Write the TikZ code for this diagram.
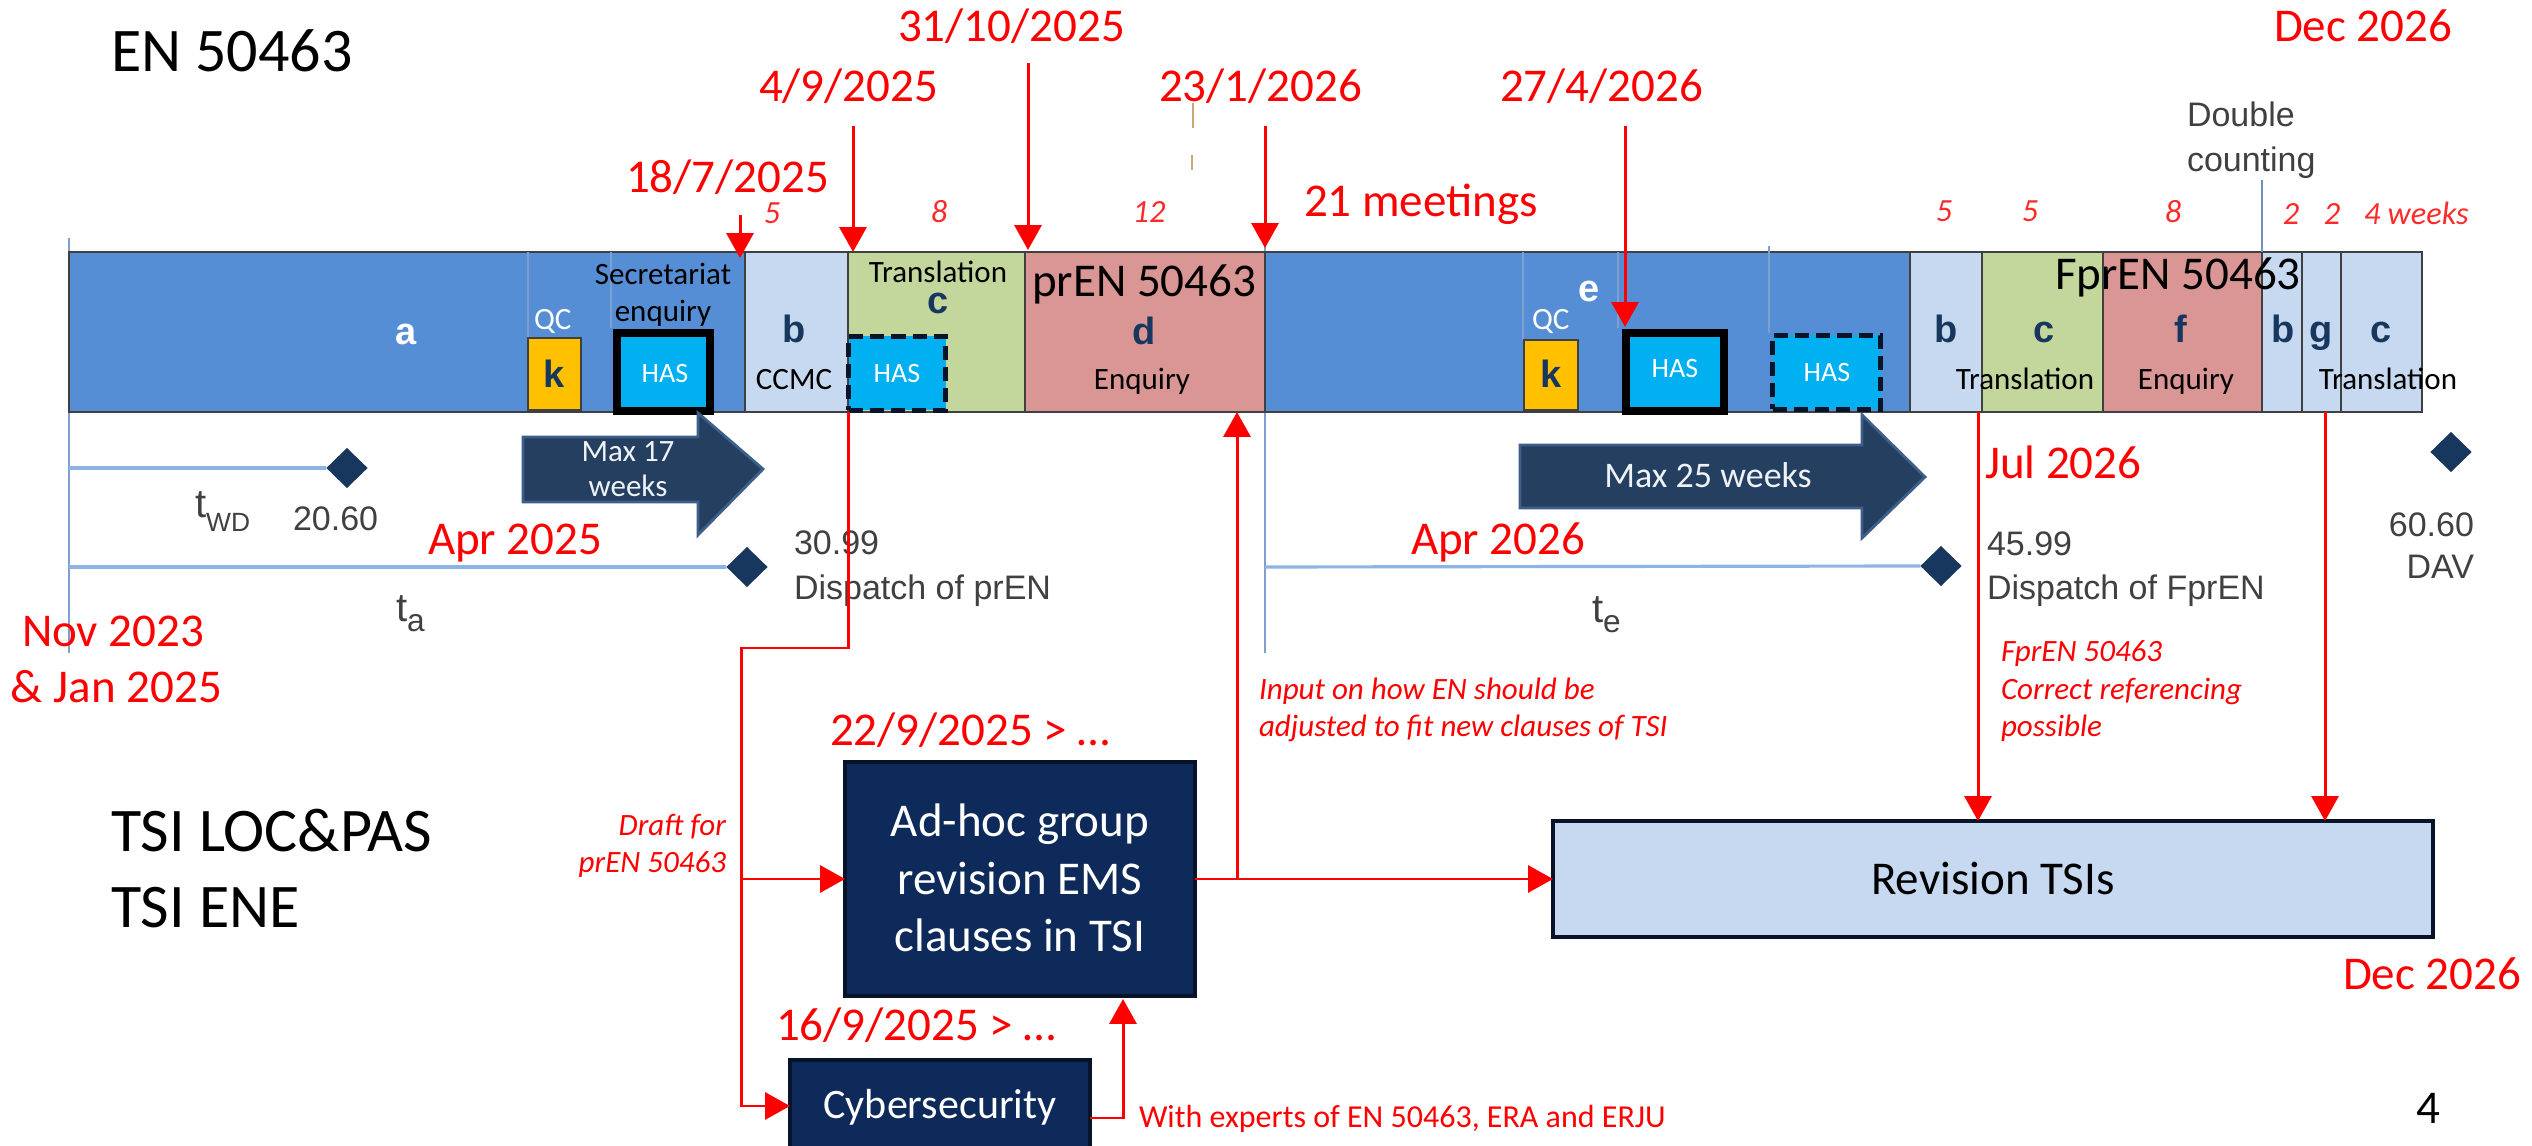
\documentclass[tikz,border=0pt]{standalone}
\usepackage{fontspec}
\setmainfont{Carlito}
\newfontfamily\arialf{Liberation Sans}
\usetikzlibrary{arrows.meta,fit,shapes.geometric}
\definecolor{barblue}{HTML}{558ED5}
\definecolor{lightseg}{HTML}{C6D9F1}
\definecolor{greenseg}{HTML}{C3D69B}
\definecolor{pinkseg}{HTML}{D99694}
\definecolor{kyellow}{HTML}{FFC000}
\definecolor{hascyan}{HTML}{00B0F0}
\definecolor{hasline}{HTML}{0A1428}
\definecolor{segline}{HTML}{404040}
\definecolor{navyl}{HTML}{17375E}
\definecolor{greyt}{HTML}{404040}
\definecolor{tblue}{HTML}{8EB4E3}
\definecolor{vblue}{HTML}{7F9FCF}
\definecolor{diacol}{HTML}{17375E}
\definecolor{arrfill}{HTML}{243F60}
\definecolor{arredge}{HTML}{3E5F8A}
\definecolor{boxnavy}{HTML}{0E2A5A}
\definecolor{boxedge}{HTML}{081228}
\definecolor{revfill}{HTML}{C6D9F1}
\definecolor{wkred}{HTML}{FF2A2A}
\definecolor{artif}{HTML}{C9A77C}
\definecolor{maxtext}{HTML}{EEF2F7}
\definecolor{dcline}{HTML}{6F8FBF}
\newcommand\tbig{\fontsize{11.4pt}{13pt}\selectfont}
\newcommand\tsubWD{\fontsize{7.5pt}{9pt}\selectfont}
\newcommand\tsubae{\fontsize{9pt}{10pt}\selectfont}
\tikzset{
 lbl/.style={inner sep=0pt, outer sep=0pt},
 reddate/.style={lbl, text=red, font=\fontsize{13.37pt}{16pt}\selectfont},
 redit/.style={lbl, text=red, font=\fontsize{8.82pt}{10.5pt}\selectfont\itshape},
 redup/.style={lbl, text=red, font=\fontsize{9.1pt}{11pt}\selectfont},
 wk/.style={lbl, text=wkred, font=\fontsize{9.2pt}{11pt}\selectfont\itshape},
 bigt/.style={lbl, text=black, font=\fontsize{17.64pt}{21pt}\selectfont},
 midt/.style={lbl, text=black, font=\fontsize{13.37pt}{16pt}\selectfont},
 greyl/.style={lbl, text=greyt, font=\arialf\fontsize{9.67pt}{11.5pt}\selectfont},
 barl/.style={lbl, text=navyl, font=\arialf\bfseries\fontsize{10.8pt}{13pt}\selectfont},
 smallt/.style={lbl, text=black, font=\fontsize{8.82pt}{10.5pt}\selectfont},
 hast/.style={lbl, text=white, font=\fontsize{7.97pt}{9.5pt}\selectfont},
 maxt/.style={lbl, text=maxtext, font=\fontsize{8.82pt}{10.5pt}\selectfont},
 seg/.style={draw=segline, line width=0.6pt, inner sep=0pt, outer sep=0pt},
 hasbox/.style={draw=black, line width=2.5pt, fill=hascyan, inner sep=0pt, outer sep=0pt},
 hasdash/.style={draw=hasline, line width=1.4pt, dash pattern=on 4pt off 2pt, fill=hascyan, inner sep=0pt, outer sep=0pt},
 kbox/.style={draw=segline, line width=0.5pt, fill=kyellow, inner sep=0pt, outer sep=0pt},
 inl/.style={draw=vblue, line width=0.5pt},
 tline/.style={draw=tblue, line width=0.9pt},
 vline/.style={draw=vblue, line width=0.7pt},
 dia/.style={diamond, fill=diacol, inner sep=0pt, outer sep=0pt, minimum width=11.7pt, minimum height=11.4pt},
 bigarrow/.style={fill=arrfill, draw=arredge, line width=0.8pt},
 rl/.style={draw=red, line width=0.85pt},
 ra/.style={rl, -{Triangle[length=7.1pt,width=7.7pt]}},
 navybox/.style={fill=boxnavy, draw=boxedge, line width=1.2pt, inner sep=0pt, outer sep=0pt},
 revbox/.style={fill=revfill, draw=boxedge, line width=1.4pt, inner sep=0pt, outer sep=0pt},
}
\begin{document}
\begin{tikzpicture}[x=0.01cm,y=-0.01cm]
\useasboundingbox (0,0) rectangle (2532,1146);
\fill[white] (0,0) rectangle (2532,1146);

% thin vertical guide lines
\coordinate (vA1) at (69,238); \coordinate (vA2) at (69,653);
\coordinate (vE1) at (1265,245); \coordinate (vE2) at (1265,653);
\draw[vline] (vA1) -- (vA2);
\draw[vline] (vE1) -- (vE2);

% ---------- bar ----------
\node[seg, fill=barblue, fit={(69,252)(745,412)}] (sA) {};
\node[seg, fill=lightseg, fit={(745,252)(848,412)}] (sB) {};
\node[seg, fill=greenseg, fit={(848,252)(1025,412)}] (sC) {};
\node[seg, fill=pinkseg, fit={(1025,252)(1265,412)}] (sD) {};
\node[seg, fill=barblue, fit={(1265,252)(1910,412)}] (sE) {};
\node[seg, fill=lightseg, fit={(1910,252)(1982,412)}] (sB2) {};
\node[seg, fill=greenseg, fit={(1982,252)(2103,412)}] (sC2) {};
\node[seg, fill=pinkseg, fit={(2103,252)(2262,412)}] (sF) {};
\node[seg, fill=lightseg, fit={(2262,252)(2302,412)}] (sB3) {};
\node[seg, fill=lightseg, fit={(2302,252)(2341,412)}] (sG) {};
\node[seg, fill=lightseg, fit={(2341,252)(2422,412)}] (sC3) {};

% inner thin lines
\coordinate (il1a) at (528,252); \coordinate (il1b) at (528,338);
\coordinate (il2a) at (611,252); \coordinate (il2b) at (611,328);
\coordinate (il3a) at (1523,252); \coordinate (il3b) at (1523,340);
\coordinate (il4a) at (1618,252); \coordinate (il4b) at (1618,328);
\coordinate (il5a) at (1769,246); \coordinate (il5b) at (1769,333);
\draw[inl] (il1a) -- (il1b);
\draw[inl] (il2a) -- (il2b);
\draw[inl] (il3a) -- (il3b);
\draw[inl] (il4a) -- (il4b);
\draw[inl] (il5a) -- (il5b);

% inner boxes
\node[kbox, fit={(528,338)(581,410)}] (k1) {};
\node[kbox, fit={(1524,340)(1578,410)}] (k2) {};
\node[hasbox, fit={(617,333)(710,411)}] (has1) {};
\node[hasbox, fit={(1626,333)(1724,411)}] (has2) {};
\node[hasdash, fit={(848.5,336.5)(945.5,410.5)}] (hasd1) {};
\node[hasdash, fit={(1772.5,335.5)(1880.5,409.5)}] (hasd2) {};

% bar texts
\node[barl, text=white, anchor=base] (ta) at (406,345) {a};
\node[smallt, text=white, anchor=base west] (qc1) at (534,330) {QC};
\node[barl, anchor=base] (tk1) at (554,388) {k};
\node[smallt, anchor=base] (sec1) at (663,285) {Secretariat};
\node[smallt, anchor=base] (sec2) at (663,322) {enquiry};
\node[hast, anchor=base] (th1) at (665,383) {HAS};
\node[barl, anchor=base] (tb1) at (794,343) {b};
\node[smallt, anchor=base] (ccmc) at (794,390) {CCMC};
\node[smallt, anchor=base] (tr1) at (938,283) {Translation};
\node[barl, anchor=base] (tc1) at (938,314) {c};
\node[hast, anchor=base] (th2) at (897,383) {HAS};
\node[midt, anchor=base west] (pren) at (1032,297) {prEN 50463};
\node[barl, anchor=base] (td) at (1144,345) {d};
\node[smallt, anchor=base] (enq1) at (1142,390) {Enquiry};
\node[barl, text=white, anchor=base] (te) at (1589,302) {e};
\node[smallt, text=white, anchor=base west] (qc2) at (1532,330) {QC};
\node[barl, anchor=base] (tk2) at (1551,388) {k};
\node[hast, anchor=base] (th3) at (1675,378) {HAS};
\node[hast, anchor=base] (th4) at (1827,382) {HAS};
\node[barl, anchor=base] (tb2) at (1946,343) {b};
\node[barl, anchor=base] (tc2) at (2044,343) {c};
\node[barl, anchor=base] (tf) at (2181,343) {f};
\node[barl, anchor=base] (tb3) at (2283,343) {b};
\node[barl, anchor=base] (tg) at (2321,343) {g};
\node[barl, anchor=base] (tc3) at (2381,343) {c};
\node[smallt, anchor=base] (tr2) at (2025,390) {Translation};
\node[smallt, anchor=base] (enq2) at (2186,390) {Enquiry};
\node[smallt, anchor=base] (tr3) at (2388,390) {Translation};
\node[midt, anchor=base west] (fpren) at (2055,290) {FprEN 50463};

% week numbers
\node[wk, anchor=base] (w1) at (772,224) {5};
\node[wk, anchor=base] (w2) at (939,223) {8};
\node[wk, anchor=base] (w3) at (1149,223) {12};
\node[wk, anchor=base] (w4) at (1944,222) {5};
\node[wk, anchor=base] (w5) at (2030,222) {5};
\node[wk, anchor=base] (w6) at (2173,223) {8};
\node[wk, anchor=base] (w7) at (2291,225) {2};
\node[wk, anchor=base] (w8) at (2332,225) {2};
\node[wk, anchor=base west] (w9) at (2364,225) {4 weeks};

% double counting
\node[greyl, anchor=base west] (dc1) at (2187,127) {Double};
\node[greyl, anchor=base west] (dc2) at (2187,172) {counting};
\coordinate (dcl1) at (2262,180); \coordinate (dcl2) at (2262,252);
\draw[draw=dcline, line width=0.7pt] (dcl1) -- (dcl2);

% faint artifact
\coordinate (art1) at (1193,103); \coordinate (art2) at (1193,128);
\coordinate (art3) at (1192,155); \coordinate (art4) at (1192,170);
\draw[draw=artif, line width=0.6pt] (art1) -- (art2);
\draw[draw=artif, line width=0.8pt] (art3) -- (art4);

% titles
\node[bigt, anchor=base west] (en) at (111,72) {EN 50463};
\node[bigt, anchor=base west] (tsi1) at (111,851) {TSI LOC\&PAS};
\node[bigt, anchor=base west] (tsi2) at (111,927) {TSI ENE};

% red dates
\node[reddate, anchor=base west] (d187) at (626,193) {18/7/2025};
\node[reddate, anchor=base west] (d49) at (759,102) {4/9/2025};
\node[reddate, anchor=base west] (d3110) at (898,42) {31/10/2025};
\node[reddate, anchor=base west] (d231) at (1159,102) {23/1/2026};
\node[reddate, anchor=base west] (d274) at (1500,102) {27/4/2026};
\node[reddate, anchor=base west] (d21m) at (1304,217) {21 meetings};
\node[reddate, anchor=base west] (ddec1) at (2274,42) {Dec 2026};
\node[reddate, anchor=base west] (dapr25) at (428,555) {Apr 2025};
\node[reddate, anchor=base west] (dnov) at (22,647) {Nov 2023};
\node[reddate, anchor=base west] (djan) at (11,703) {\& Jan 2025};
\node[reddate, anchor=base west] (dapr26) at (1411,555) {Apr 2026};
\node[reddate, anchor=base west] (djul) at (1985,479) {Jul 2026};
\node[reddate, anchor=base west] (d229) at (830,745) {22/9/2025 > …};
\node[reddate, anchor=base west] (d169) at (776,1040) {16/9/2025 > …};
\node[reddate, anchor=base west] (ddec2) at (2343,989) {Dec 2026};
\node[midt, anchor=base] (pg) at (2428,1123) {4};

% date arrows
\coordinate (a1s) at (740,215); \coordinate (a1e) at (740,258);
\coordinate (a2s) at (853,126); \coordinate (a2e) at (853,252);
\coordinate (a3s) at (1028,63); \coordinate (a3e) at (1028,250);
\coordinate (a4s) at (1265,126); \coordinate (a4e) at (1265,248);
\coordinate (a5s) at (1625,126); \coordinate (a5e) at (1625,327);
\draw[ra] (a1s) -- (a1e);
\draw[ra] (a2s) -- (a2e);
\draw[ra] (a3s) -- (a3e);
\draw[ra] (a4s) -- (a4e);
\draw[ra] (a5s) -- (a5e);

% t lines and diamonds
\node[dia] (D1) at (347,468) {};
\node[dia] (D2) at (747,567) {};
\node[dia] (D3) at (1941,566) {};
\node[dia] (D4) at (2451,452) {};
\coordinate (tw0) at (69,468); \coordinate (ta0) at (69,567); \coordinate (te0) at (1265,567);
\draw[tline] (tw0) -- (D1.west);
\draw[tline] (ta0) -- (D2.west);
\draw[tline] (te0) -- (D3.west);

\node[greyl, anchor=base west] (twd) at (195,518) {{\tbig t}\raisebox{-3.7pt}{\tsubWD WD}};
\node[greyl, anchor=base west] (n2060) at (293,531) {20.60};
\node[greyl, anchor=base west] (tta) at (396,622) {{\tbig t}\raisebox{-2.8pt}{\tsubae a}};
\node[greyl, anchor=base west] (tte) at (1592,623) {{\tbig t}\raisebox{-2.8pt}{\tsubae e}};
\node[greyl, anchor=base west] (n3099) at (794,555) {30.99};
\node[greyl, anchor=base west] (dpren) at (794,600) {Dispatch of prEN};
\node[greyl, anchor=base west] (n4599) at (1987,556) {45.99};
\node[greyl, anchor=base west] (dfpren) at (1987,600) {Dispatch of FprEN};
\node[greyl, anchor=base east] (n6060) at (2474,537) {60.60};
\node[greyl, anchor=base east] (dav) at (2474,579) {DAV};

% big arrows
\draw[bigarrow] (523,437) -- (698,437) -- (698,413) -- (763,469) -- (698,535) -- (698,502) -- (523,502) -- cycle;
\node[maxt, anchor=base] (m17a) at (628,462) {Max 17};
\node[maxt, anchor=base] (m17b) at (628,497) {weeks};
\draw[bigarrow] (1520,445) -- (1862,445) -- (1862,415) -- (1925,477) -- (1862,538) -- (1862,508) -- (1520,508) -- cycle;
\node[maxt, font=\fontsize{10.24pt}{12pt}\selectfont, anchor=base] (m25) at (1708,488) {Max 25 weeks};

% red annotations
\node[redit, anchor=base west] (in1) at (1259,700) {Input on how EN should be};
\node[redit, anchor=base west] (in2) at (1259,737) {adjusted to fit new clauses of TSI};
\node[redit, anchor=base west] (fp1) at (2001,662) {FprEN 50463};
\node[redit, anchor=base west] (fp2) at (2001,700) {Correct referencing};
\node[redit, anchor=base west] (fp3) at (2001,737) {possible};
\node[redit, anchor=base east] (dr1) at (726,835) {Draft for};
\node[redit, anchor=base east] (dr2) at (726,873) {prEN 50463};
\node[redup, anchor=base west] (wexp) at (1139,1127) {With experts of EN 50463, ERA and ERJU};

% lower boxes
\node[navybox, fit={(845,762)(1195,996)}] (adhoc) {};
\node[lbl, text=white, font=\fontsize{13.37pt}{16pt}\selectfont, anchor=base] (ah1) at (1020,837) {Ad-hoc group};
\node[lbl, text=white, font=\fontsize{13.37pt}{16pt}\selectfont, anchor=base] (ah2) at (1020,895) {revision EMS};
\node[lbl, text=white, font=\fontsize{13.37pt}{16pt}\selectfont, anchor=base] (ah3) at (1020,952) {clauses in TSI};
\node[navybox, fit={(790,1060)(1090,1152)}] (cyber) {};
\node[lbl, text=white, font=\fontsize{11.95pt}{14pt}\selectfont, anchor=base] (cyt) at (940,1118) {Cybersecurity};
\node[revbox, fit={(1553,821)(2433,937)}] (rev) {};
\node[midt, anchor=base] (revt) at (1993,895) {Revision TSIs};

% red connectors
\coordinate (cH) at (848,412);
\coordinate (cT1) at (848,648);
\coordinate (cT2) at (741,648);
\coordinate (cBr) at (741,879);
\draw[ra] (cH) -- (cT1) -- (cT2) |- (cyber.west);
\draw[ra] (cBr) -- (adhoc.west);
\coordinate (cyOut) at (1090,1118);
\coordinate (cyUp) at (1123,999);
\draw[ra] (cyOut) -| (cyUp);
\draw[ra] (adhoc.east) -- (rev.west);
\coordinate (inB) at (1237,879);
\coordinate (inT) at (1237,412);
\draw[ra] (inB) -- (inT);
\coordinate (jT) at (1978,412);
\coordinate (kT) at (2325,412);
\draw[ra] (jT) -- (jT |- rev.north);
\draw[ra] (kT) -- (kT |- rev.north);
\end{tikzpicture}
\end{document}
